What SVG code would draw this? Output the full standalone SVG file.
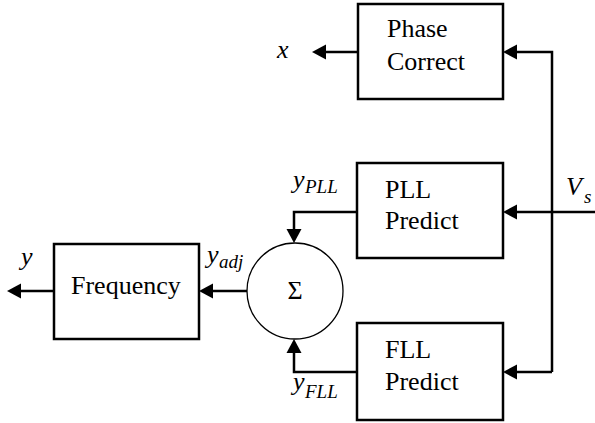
<svg xmlns="http://www.w3.org/2000/svg" width="595" height="423" viewBox="0 0 595 423" font-family="Liberation Serif, Times New Roman, serif">
<style>
.box{fill:#fff;stroke:#000;stroke-width:2.5}
.sum{fill:#fff;stroke:#000;stroke-width:1.3}
.ln{fill:none;stroke:#000;stroke-width:2.5}
.ah{fill:#000;stroke:none}
</style>
<g id="connectors">
<path class="ln" d="M358,52 L325,52"/>
<polygon class="ah" points="312,52 326,44.5 326,59.5"/>
<path class="ln" d="M552,372 L552,52 L516,52"/>
<polygon class="ah" points="503,52 517,44.5 517,59.5"/>
<path class="ln" d="M595,212 L516,212"/>
<polygon class="ah" points="503,212 517,204.5 517,219.5"/>
<path class="ln" d="M552,372 L516,372"/>
<polygon class="ah" points="503,372 517,364.5 517,379.5"/>
<path class="ln" d="M357,212 L294,212 L294,230"/>
<polygon class="ah" points="294,243 286.5,229 301.5,229"/>
<path class="ln" d="M357,372 L294,372 L294,352"/>
<polygon class="ah" points="294,339 286.5,353 301.5,353"/>
<path class="ln" d="M247,291 L212,291"/>
<polygon class="ah" points="199,291 213,283.5 213,298.5"/>
<path class="ln" d="M54,291 L20,291"/>
<polygon class="ah" points="7,291 21,283.5 21,298.5"/>
</g>
<g id="phase">
<rect class="box" x="358" y="4" width="145" height="95"/>
<text x="387" y="37" font-family="Liberation Serif" font-size="26">Phase</text>
<text x="387" y="70" font-family="Liberation Serif" font-size="26">Correct</text>
</g>
<g id="pll">
<rect class="box" x="357" y="163" width="146" height="95"/>
<text x="385" y="198" font-family="Liberation Serif" font-size="26">PLL</text>
<text x="385" y="229" font-family="Liberation Serif" font-size="26">Predict</text>
</g>
<g id="fll">
<rect class="box" x="357" y="323" width="146" height="97"/>
<text x="385" y="358" font-family="Liberation Serif" font-size="26">FLL</text>
<text x="385" y="390" font-family="Liberation Serif" font-size="26">Predict</text>
</g>
<g id="sum">
<circle class="sum" cx="295" cy="291" r="48"/>
<text x="287.5" y="299" font-family="Liberation Serif" font-size="26">&#931;</text>
</g>
<g id="frequency">
<rect class="box" x="54" y="244" width="145" height="95"/>
<text x="71" y="294" font-family="Liberation Serif" font-size="26">Frequency</text>
</g>
<g id="labels">
<text x="277" y="58" font-family="Liberation Serif" font-style="italic" font-size="26">x</text>
<text x="21" y="265" font-family="Liberation Serif" font-style="italic" font-size="26">y</text>
<text x="207" y="263" font-family="Liberation Serif" font-style="italic" font-size="26">y</text>
<text x="219" y="268" font-family="Liberation Serif" font-style="italic" font-size="19">adj</text>
<text x="293" y="188" font-family="Liberation Serif" font-style="italic" font-size="26">y</text>
<text x="305" y="193" font-family="Liberation Serif" font-style="italic" font-size="19">PLL</text>
<text x="293" y="390" font-family="Liberation Serif" font-style="italic" font-size="26">y</text>
<text x="305" y="398" font-family="Liberation Serif" font-style="italic" font-size="19">FLL</text>
<text x="566" y="195" font-family="Liberation Serif" font-style="italic" font-size="26">V</text>
<text x="584" y="203" font-family="Liberation Serif" font-style="italic" font-size="19">s</text>
</g>
</svg>
